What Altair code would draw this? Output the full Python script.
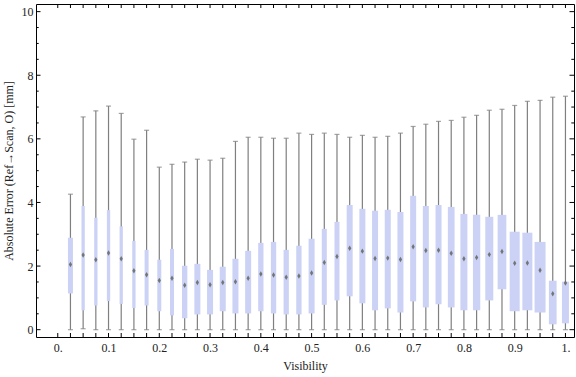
import altair as alt
import pandas as pd

visibility = [0.025, 0.05, 0.075, 0.1, 0.125, 0.15, 0.175, 0.2, 0.225, 0.25,
              0.275, 0.3, 0.325, 0.35, 0.375, 0.4, 0.425, 0.45, 0.475, 0.5,
              0.525, 0.55, 0.575, 0.6, 0.625, 0.65, 0.675, 0.7, 0.725, 0.75,
              0.775, 0.8, 0.825, 0.85, 0.875, 0.9, 0.925, 0.95, 0.975, 1.0]
whisker_high = [4.26, 6.69, 6.88, 7.03, 6.80, 5.99, 6.27, 5.11, 5.20, 5.27,
                5.36, 5.33, 5.39, 5.92, 6.05, 6.05, 6.02, 6.02, 6.18, 6.14,
                6.18, 6.14, 6.05, 6.11, 6.05, 6.08, 6.18, 6.39, 6.46, 6.55,
                6.58, 6.68, 6.74, 6.90, 6.93, 7.05, 7.18, 7.21, 7.31, 7.34]
q3 = [2.89, 3.89, 3.52, 3.76, 3.25, 2.79, 2.51, 2.20, 2.54, 2.01,
      2.07, 1.88, 1.98, 2.23, 2.48, 2.73, 2.76, 2.51, 2.64, 2.86,
      3.17, 3.39, 3.92, 3.80, 3.74, 3.77, 3.70, 4.21, 3.89, 3.92,
      3.86, 3.64, 3.61, 3.55, 3.61, 3.08, 3.05, 2.76, 1.54, 1.51]
median = [2.05, 2.35, 2.20, 2.41, 2.23, 1.85, 1.73, 1.55, 1.62, 1.40,
          1.48, 1.41, 1.48, 1.51, 1.62, 1.75, 1.72, 1.65, 1.69, 1.78,
          2.11, 2.30, 2.56, 2.47, 2.24, 2.25, 2.21, 2.61, 2.49, 2.50,
          2.40, 2.23, 2.27, 2.36, 2.46, 2.09, 2.10, 1.87, 1.13, 1.47]
q1 = [1.14, 0.61, 0.76, 0.90, 0.81, 0.68, 0.76, 0.58, 0.45, 0.36,
      0.48, 0.48, 0.58, 0.51, 0.51, 0.58, 0.51, 0.48, 0.48, 0.51,
      0.78, 0.92, 1.05, 0.83, 0.61, 0.67, 0.54, 0.89, 0.70, 0.80,
      0.70, 0.61, 0.61, 0.92, 1.27, 0.58, 0.61, 0.54, 0.17, 0.20]
whisker_low = [0, 0.03, 0, 0, 0, 0, 0, 0, 0, 0,
               0, 0, 0, 0, 0, 0, 0, 0, 0, 0,
               0, 0, 0, 0, 0, 0, 0, 0, 0, 0,
               0, 0, 0, 0, 0, 0, 0, 0, 0, 0]
# relative box weight (box width in the reference)
box_weight = [5, 3.3, 3.3, 3.3, 3.3, 3.3, 4, 4, 4, 5.3,
              6, 6, 6, 6, 6, 5.3, 5.3, 5.3, 5.3, 6,
              5, 5, 6, 6, 6, 6, 6, 6, 6, 6,
              6.7, 7, 7.3, 8, 8.7, 10, 10, 11, 7.7, 7]

x_label_values = [0, 0.1, 0.2, 0.3, 0.4, 0.5, 0.6, 0.7, 0.8, 0.9, 1.0]
x_tick_values = [0] + visibility
y_label_values = [0, 2, 4, 6, 8, 10]
y_minor_values = [0.5, 1, 1.5, 2.5, 3, 3.5, 4.5, 5, 5.5, 6.5, 7, 7.5,
                  8.5, 9, 9.5]

df = pd.DataFrame({
    "vis": visibility, "lo": whisker_low, "q1": q1, "med": median,
    "q3": q3, "hi": whisker_high, "w": box_weight,
})
xt = pd.DataFrame({"x": x_tick_values})
yM = pd.DataFrame({"y": y_label_values})
ym = pd.DataFrame({"y": y_minor_values})

W, H = 538, 333
xscale = alt.Scale(domain=[-0.033, 1.007], nice=False, zero=False)
yscale = alt.Scale(domain=[-0.23, 10.24], nice=False, zero=False)

XT = "Visibility"
YT = "Absolute Error (Ref\u2192Scan, O) [mm]"

xaxis = alt.Axis(
    values=x_label_values,
    labelExpr="datum.value == 0 ? '0.' : (datum.value == 1 ? '1.' : format(datum.value, '.1f'))",
    grid=False, ticks=False, domain=False, labelPadding=5,
    labelFlush=False, labelOverlap=False, titlePadding=7,
)
yaxis = alt.Axis(
    values=y_label_values, format="d", grid=False, ticks=False, domain=False,
    labelPadding=3, labelFlush=False, labelOverlap=False, titlePadding=6,
)


def X(field):
    return alt.X(field, scale=xscale, axis=xaxis, title=XT)


def Y(field):
    return alt.Y(field, scale=yscale, axis=yaxis, title=YT)


gray = "#7f7f7f"
base = alt.Chart(df)

whisk = base.mark_rule(color=gray, strokeWidth=1.2).encode(
    x=X("vis:Q"), y=Y("lo:Q"), y2="hi:Q",
)
cap_hi = base.mark_tick(color=gray, orient="horizontal", size=5, thickness=1.2).encode(
    x=X("vis:Q"), y=Y("hi:Q"),
)
cap_lo = base.mark_tick(color=gray, orient="horizontal", size=5, thickness=1.2).encode(
    x=X("vis:Q"), y=Y("lo:Q"),
)
box = base.mark_bar(color="#cbd2f5", clip=True, orient="vertical").encode(
    x=X("vis:Q"), y=Y("q1:Q"), y2="q3:Q",
    size=alt.Size("w:Q", scale=alt.Scale(domain=[0, 11], range=[0, 11]), legend=None),
)
med = base.mark_point(filled=True, color="#6a6a6a", opacity=0.9,
                      shape="M0,-1L0.6,0L0,1L-0.6,0Z", size=30, clip=True).encode(
    x=X("vis:Q"), y=Y("med:Q"),
)

tick_col = "black"
xb = alt.Chart(xt).mark_rule(color=tick_col, strokeWidth=1).encode(
    x=X("x:Q"), y=alt.value(H), y2=alt.value(H - 4))
xtp = alt.Chart(xt).mark_rule(color=tick_col, strokeWidth=1).encode(
    x=X("x:Q"), y=alt.value(0), y2=alt.value(4))
yl_major = alt.Chart(yM).mark_rule(color=tick_col, strokeWidth=1).encode(
    y=Y("y:Q"), x=alt.value(0), x2=alt.value(4.5))
yr_major = alt.Chart(yM).mark_rule(color=tick_col, strokeWidth=1).encode(
    y=Y("y:Q"), x=alt.value(W - 4.5), x2=alt.value(W))
yl_minor = alt.Chart(ym).mark_rule(color=tick_col, strokeWidth=1).encode(
    y=Y("y:Q"), x=alt.value(0), x2=alt.value(2.7))
yr_minor = alt.Chart(ym).mark_rule(color=tick_col, strokeWidth=1).encode(
    y=Y("y:Q"), x=alt.value(W - 2.7), x2=alt.value(W))

chart = alt.layer(
    whisk, cap_hi, cap_lo, box, med, xb, xtp, yl_major, yr_major, yl_minor, yr_minor
).properties(
    width=W, height=H,
    padding={"left": 36, "top": 4, "right": 2, "bottom": 40},
    autosize=alt.AutoSizeParams(type="none"),
    background="white",
).configure_view(
    stroke="black", strokeWidth=1,
).configure_axis(
    labelFont="Liberation Serif", labelFontSize=12, labelColor="#222222",
    titleFont="Liberation Serif", titleFontSize=12, titleFontWeight="normal",
    titleColor="#222222",
)

chart.save("out.html", embed_options={"renderer": "svg", "actions": False})
